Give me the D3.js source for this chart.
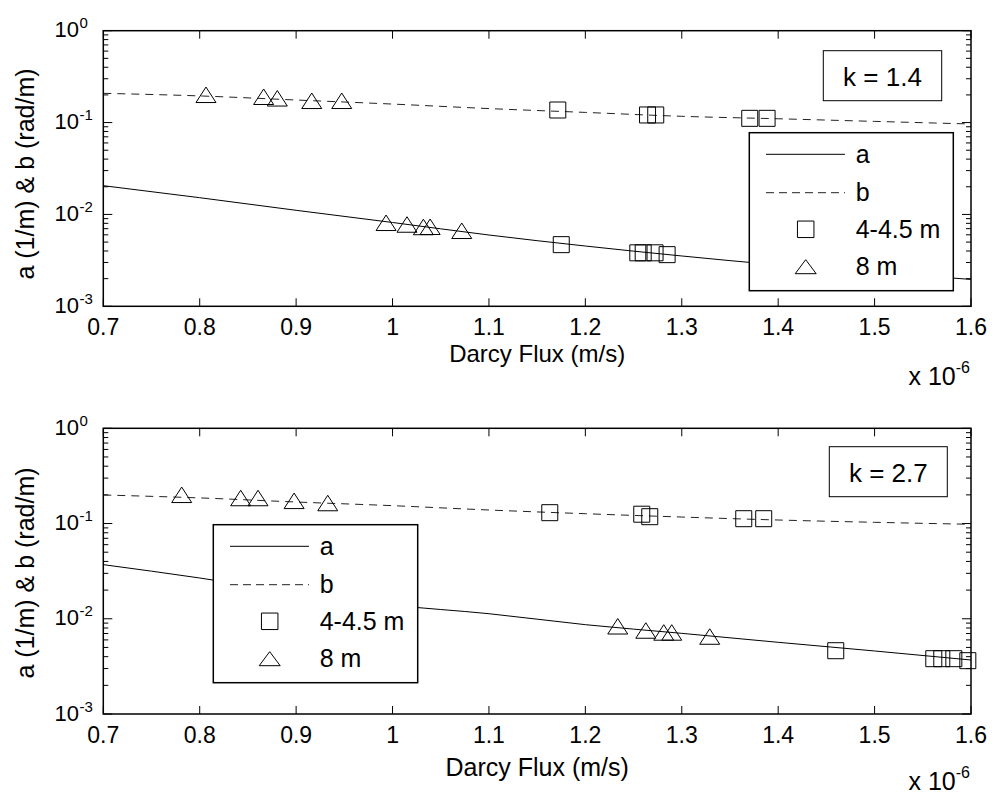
<!DOCTYPE html>
<html>
<head>
<meta charset="utf-8">
<script src="https://cdn.jsdelivr.net/npm/d3@7/dist/d3.min.js"></script>
<style>
  html, body { margin: 0; padding: 0; background: #fff; }
  svg { display: block; font-family: "Liberation Sans", Arial, Helvetica, sans-serif; }
</style>
</head>
<body>
<svg id="chart" width="995" height="797"></svg>
<script>
// ---------------- DATA ----------------
// Darcy flux in units of 1e-6 m/s
const xTickValues = [0.7, 0.8, 0.9, 1.0, 1.1, 1.2, 1.3, 1.4, 1.5, 1.6];
const xTickLabels = ["0.7", "0.8", "0.9", "1", "1.1", "1.2", "1.3", "1.4", "1.5", "1.6"];
const yTickExponents = [0, -1, -2, -3];
const xLabel = "Darcy Flux (m/s)";
const yLabel = "a (1/m) & b (rad/m)";
const xScaleNote = "x 10";
const xScaleExp = "-6";
const legendLabels = ["a", "b", "4-4.5 m", "8 m"];

// fitted curves sampled at these flux values
const curveFlux = [0.7, 0.8, 0.9, 1.0, 1.1, 1.2, 1.3, 1.4, 1.5, 1.6];

// Panel 1: k = 1.4
const k1Label = "k = 1.4";
const k1CurveA = [0.02056, 0.01521, 0.01109, 0.00817, 0.00597, 0.00453, 0.00353, 0.00282, 0.00236, 0.00196];
const k1CurveB = [0.208, 0.195, 0.176, 0.159, 0.142, 0.129, 0.117, 0.110, 0.103, 0.0965];
const k1SquareA_x = [1.175, 1.2544, 1.260, 1.2723, 1.2848];
const k1SquareA_y = [0.00469, 0.00382, 0.00382, 0.00382, 0.00365];
const k1TriangleA_x = [0.9933, 1.015, 1.032, 1.039, 1.0718];
const k1TriangleA_y = [0.00811, 0.00777, 0.0073, 0.00734, 0.00664];
const k1SquareB_x = [1.1714, 1.2645, 1.2730, 1.3705, 1.3885];
const k1SquareB_y = [0.137, 0.121, 0.121, 0.1112, 0.1112];
const k1TriangleB_x = [0.8065, 0.8663, 0.8805, 0.9162, 0.9473];
const k1TriangleB_y = [0.2006, 0.191, 0.1837, 0.1726, 0.1726];

// Panel 2: k = 2.7
const k2Label = "k = 2.7";
const k2CurveA = [0.0370, 0.0268, 0.01866, 0.0139, 0.0113, 0.00867, 0.00703, 0.00566, 0.00459, 0.00369];
const k2CurveB = [0.1994, 0.1858, 0.1683, 0.154, 0.1387, 0.1268, 0.117, 0.1089, 0.103, 0.0982];
const k2SquareA_x = [1.4597, 1.5614, 1.5697, 1.5822, 1.5967];
const k2SquareA_y = [0.00462, 0.00381, 0.00381, 0.00381, 0.00363];
const k2TriangleA_x = [1.2336, 1.2627, 1.2813, 1.2896, 1.329];
const k2TriangleA_y = [0.00834, 0.00753, 0.00718, 0.00718, 0.00651];
const k2SquareB_x = [1.1631, 1.2585, 1.2668, 1.3643, 1.385];
const k2SquareB_y = [0.130, 0.1253, 0.118, 0.1124, 0.1124];
const k2TriangleB_x = [0.7813, 0.8425, 0.8605, 0.8979, 0.9328];
const k2TriangleB_y = [0.2003, 0.1854, 0.1854, 0.1731, 0.1642];

// ---------------- LAYOUT ----------------
const zip = (xs, ys) => xs.map((x, i) => ({ x, y: ys[i] }));

const panels = [
  {
    kLabel: k1Label,
    curveA: zip(curveFlux, k1CurveA), curveB: zip(curveFlux, k1CurveB),
    squares: zip(k1SquareA_x, k1SquareA_y).concat(zip(k1SquareB_x, k1SquareB_y)),
    triangles: zip(k1TriangleA_x, k1TriangleA_y).concat(zip(k1TriangleB_x, k1TriangleB_y)),
    top: 30.7, bottom: 306.3,
    legend: { x: 749.3, y: 132.7, w: 204, h: 158 },
    kbox: { x: 823.3, y: 50.7, w: 118.4, h: 50 },
    xLabelY: 362, xLabelSize: 24, noteY: 385, yLabelCenter: 174
  },
  {
    kLabel: k2Label,
    curveA: zip(curveFlux, k2CurveA), curveB: zip(curveFlux, k2CurveB),
    squares: zip(k2SquareA_x, k2SquareA_y).concat(zip(k2SquareB_x, k2SquareB_y)),
    triangles: zip(k2TriangleA_x, k2TriangleA_y).concat(zip(k2TriangleB_x, k2TriangleB_y)),
    top: 428.3, bottom: 714,
    legend: { x: 213.3, y: 524.7, w: 204.4, h: 158 },
    kbox: { x: 829.3, y: 446.7, w: 118, h: 50 },
    xLabelY: 776, xLabelSize: 25, noteY: 790, yLabelCenter: 573
  }
];

const LEFT = 103.3, RIGHT = 971;
const svg = d3.select("#chart");

const sqPath = (cx, cy, s) => `M${cx - s/2},${cy - s/2}h${s}v${s}h${-s}Z`;
const triPath = (cx, cy, w, h) => `M${cx},${cy - h/2}L${cx + w/2},${cy + h/2}L${cx - w/2},${cy + h/2}Z`;

panels.forEach(p => {
  const x = d3.scaleLinear().domain([0.7, 1.6]).range([LEFT, RIGHT]);
  const y = d3.scaleLog().domain([1e-3, 1]).range([p.bottom, p.top]);
  const g = svg.append("g");

  // minor log ticks (left & right, inward)
  const minor = [];
  for (let e = -3; e < 0; e++) for (let m = 2; m <= 9; m++) minor.push(m * Math.pow(10, e));
  const tickG = g.append("g").attr("stroke", "#000").attr("stroke-width", 1);
  minor.forEach(v => {
    tickG.append("line").attr("x1", LEFT).attr("x2", LEFT + 5).attr("y1", y(v)).attr("y2", y(v));
    tickG.append("line").attr("x1", RIGHT).attr("x2", RIGHT - 5).attr("y1", y(v)).attr("y2", y(v));
  });
  yTickExponents.forEach(e => {
    const v = Math.pow(10, e);
    tickG.append("line").attr("x1", LEFT).attr("x2", LEFT + 9).attr("y1", y(v)).attr("y2", y(v));
    tickG.append("line").attr("x1", RIGHT).attr("x2", RIGHT - 9).attr("y1", y(v)).attr("y2", y(v));
  });
  xTickValues.forEach(v => {
    tickG.append("line").attr("x1", x(v)).attr("x2", x(v)).attr("y1", p.bottom).attr("y2", p.bottom - 8);
    tickG.append("line").attr("x1", x(v)).attr("x2", x(v)).attr("y1", p.top).attr("y2", p.top + 8);
  });

  // x tick labels
  xTickValues.forEach((v, i) => {
    g.append("text").attr("x", x(v)).attr("y", p.bottom + 29)
      .attr("text-anchor", "middle").attr("font-size", 23).text(xTickLabels[i]);
  });
  // y tick labels 10^e
  yTickExponents.forEach(e => {
    const yy = y(Math.pow(10, e));
    g.append("text").attr("x", 79).attr("y", yy + 6.5).attr("text-anchor", "end")
      .attr("font-size", 22).text("10");
    g.append("text").attr("x", 79.5).attr("y", yy - 2.5).attr("text-anchor", "start")
      .attr("font-size", 15).text(String(e));
  });

  // axis labels
  g.append("text").attr("x", (LEFT + RIGHT) / 2).attr("y", p.xLabelY)
    .attr("text-anchor", "middle").attr("font-size", p.xLabelSize).text(xLabel);
  g.append("text").attr("transform", `translate(34,${p.yLabelCenter}) rotate(-90)`)
    .attr("text-anchor", "middle").attr("font-size", 25).text(yLabel);
  // x 10^-6 note
  const note = g.append("text").attr("x", 970).attr("y", p.noteY).attr("text-anchor", "end").attr("font-size", 25);
  note.append("tspan").text(xScaleNote);
  note.append("tspan").attr("font-size", 16).attr("dy", -12).text(xScaleExp);

  // curves
  const line = d3.line().x(d => x(d.x)).y(d => y(d.y)).curve(d3.curveMonotoneX);
  g.append("path").datum(p.curveA).attr("d", line)
    .attr("fill", "none").attr("stroke", "#000").attr("stroke-width", 1);
  g.append("path").datum(p.curveB).attr("d", line)
    .attr("fill", "none").attr("stroke", "#222").attr("stroke-width", 1).attr("stroke-dasharray", "8,6");

  // markers
  g.append("g").selectAll("path").data(p.squares).join("path")
    .attr("d", d => sqPath(x(d.x), y(d.y), 16))
    .attr("fill", "none").attr("stroke", "#000").attr("stroke-width", 1);
  g.append("g").selectAll("path").data(p.triangles).join("path")
    .attr("d", d => triPath(x(d.x), y(d.y), 20, 15.5))
    .attr("fill", "none").attr("stroke", "#000").attr("stroke-width", 1);

  // axes box
  g.append("rect").attr("x", LEFT).attr("y", p.top).attr("width", RIGHT - LEFT).attr("height", p.bottom - p.top)
    .attr("fill", "none").attr("stroke", "#000").attr("stroke-width", 1.5);

  // k box
  const kb = p.kbox;
  g.append("rect").attr("x", kb.x).attr("y", kb.y).attr("width", kb.w).attr("height", kb.h)
    .attr("fill", "#fff").attr("stroke", "#000").attr("stroke-width", 1);
  g.append("text").attr("x", kb.x + kb.w / 2).attr("y", kb.y + 35.5).attr("text-anchor", "middle")
    .attr("font-size", 26).text(p.kLabel);

  // legend
  const L = p.legend;
  const lg = g.append("g").attr("transform", `translate(${L.x},${L.y})`);
  lg.append("rect").attr("width", L.w).attr("height", L.h).attr("fill", "#fff")
    .attr("stroke", "#000").attr("stroke-width", 1.5);
  const rows = [21.6, 60, 96.6, 134];
  lg.append("line").attr("x1", 16.7).attr("x2", 95.7).attr("y1", rows[0]).attr("y2", rows[0])
    .attr("stroke", "#000").attr("stroke-width", 1);
  lg.append("line").attr("x1", 16.7).attr("x2", 95.7).attr("y1", rows[1]).attr("y2", rows[1])
    .attr("stroke", "#222").attr("stroke-width", 1).attr("stroke-dasharray", "8,5");
  lg.append("path").attr("d", sqPath(56.4, rows[2], 16.5)).attr("fill", "none").attr("stroke", "#000");
  lg.append("path").attr("d", triPath(56.4, rows[3], 21, 14)).attr("fill", "none").attr("stroke", "#000");
  legendLabels.forEach((t, i) => {
    lg.append("text").attr("x", 106.4).attr("y", rows[i] + 8.5).attr("font-size", 25).text(t);
  });
});
</script>
</body>
</html>
